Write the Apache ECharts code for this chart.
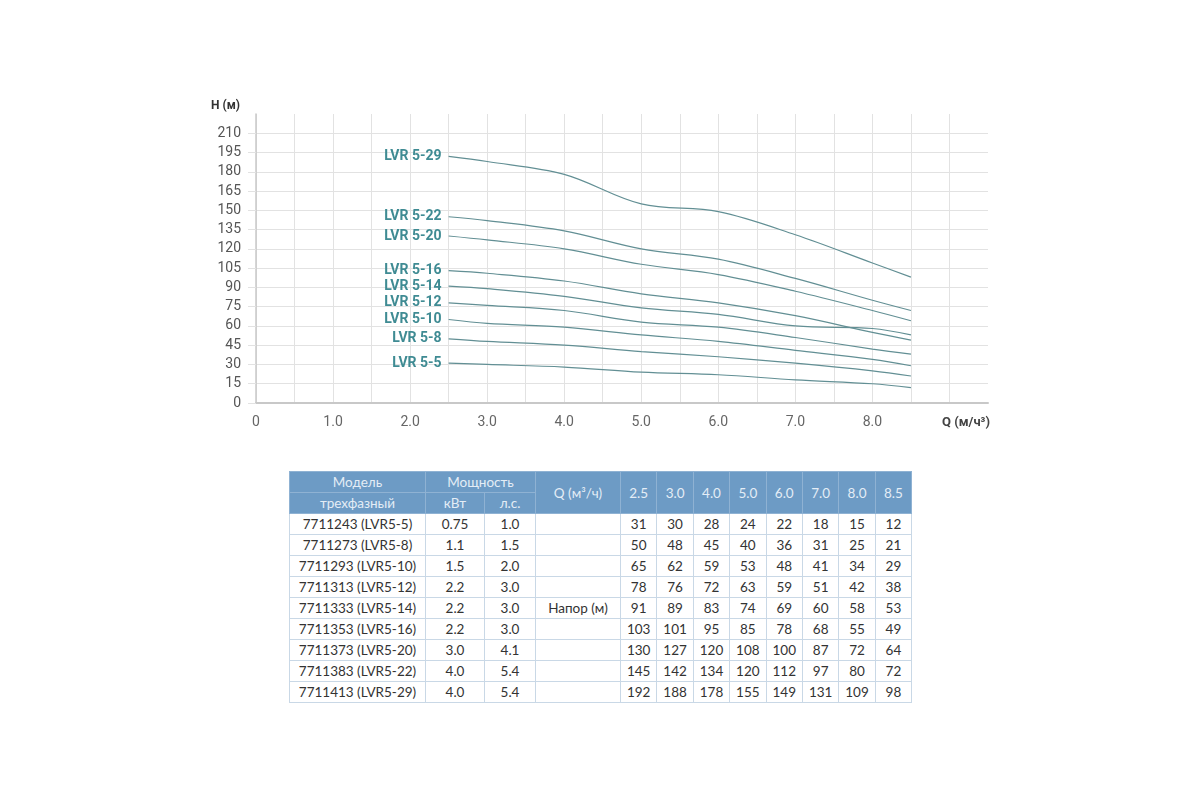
<!DOCTYPE html>
<html lang="ru">
<head>
<meta charset="utf-8">
<script src="https://cdn.jsdelivr.net/npm/echarts@6/dist/echarts.min.js"></script>
<style>
    html, body { margin: 0; padding: 0; background: #fff; }
    #chart { position: absolute; left: 0; top: 0; width: 1200px; height: 460px; }
    #tbl {
        position: absolute; left: 289px; top: 471px; width: 622px;
        border-collapse: collapse; table-layout: fixed;
        font-family: Lato, "Open Sans", sans-serif; font-size: 13.5px; color: #333;
    }
    #tbl td, #tbl th {
        height: 20px; padding: 0; text-align: center;
        border: 1px solid #c9d8e6; white-space: nowrap;
    }
    #tbl th {
        background: #6d9bc5; color: #e4edf6; font-weight: normal;
        border-color: #8fb2d3;
    }
</style>
</head>
<body>
<div id="chart"></div>
<table id="tbl"></table>
<script>
    // расход, м3/ч
    var flow = [2.5, 3.0, 4.0, 5.0, 6.0, 7.0, 8.0, 8.5];
    var flowLabels = ['2.5', '3.0', '4.0', '5.0', '6.0', '7.0', '8.0', '8.5'];

    var models = ['LVR 5-5', 'LVR 5-8', 'LVR 5-10', 'LVR 5-12', 'LVR 5-14', 'LVR 5-16', 'LVR 5-20', 'LVR 5-22', 'LVR 5-29'];
    var codes = ['7711243 (LVR5-5)', '7711273 (LVR5-8)', '7711293 (LVR5-10)', '7711313 (LVR5-12)', '7711333 (LVR5-14)',
                 '7711353 (LVR5-16)', '7711373 (LVR5-20)', '7711383 (LVR5-22)', '7711413 (LVR5-29)'];
    var powerKw = ['0.75', '1.1', '1.5', '2.2', '2.2', '2.2', '3.0', '4.0', '4.0'];
    var powerHp = ['1.0', '1.5', '2.0', '3.0', '3.0', '3.0', '4.1', '5.4', '5.4'];

    // напор, м
    var head_5_5  = [31, 30, 28, 24, 22, 18, 15, 12];
    var head_5_8  = [50, 48, 45, 40, 36, 31, 25, 21];
    var head_5_10 = [65, 62, 59, 53, 48, 41, 34, 29];
    var head_5_12 = [78, 76, 72, 63, 59, 51, 42, 38];
    var head_5_14 = [91, 89, 83, 74, 69, 60, 58, 53];
    var head_5_16 = [103, 101, 95, 85, 78, 68, 55, 49];
    var head_5_20 = [130, 127, 120, 108, 100, 87, 72, 64];
    var head_5_22 = [145, 142, 134, 120, 112, 97, 80, 72];
    var head_5_29 = [192, 188, 178, 155, 149, 131, 109, 98];
    var heads = [head_5_5, head_5_8, head_5_10, head_5_12, head_5_14, head_5_16, head_5_20, head_5_22, head_5_29];

    var grid = '#e2e2e2';
    var xSplit = [], ySplit = [];
    for (var i = 0; i < 19; i++) xSplit.push(grid);
    xSplit.push('rgba(0,0,0,0)');
    for (var j = 0; j < 15; j++) ySplit.push(grid);
    ySplit.push('rgba(0,0,0,0)');

    var series = models.map(function (name, k) {
        return {
            name: name,
            type: 'line',
            smooth: 0.35,
            symbol: 'none',
            lineStyle: { color: '#628f94', width: 1.2 },
            label: { show: false },
            data: flow.map(function (q, n) {
                var item = { value: [q, heads[k][n]] };
                if (n === 0) {
                    item.symbol = 'circle';
                    item.symbolSize = 0.1;
                    item.label = {
                        show: true, position: 'left', distance: 7,
                        formatter: name,
                        color: '#3f8b93', fontWeight: 'bold', fontSize: 14,
                        fontFamily: 'Roboto'
                    };
                }
                return item;
            })
        };
    });

    var myChart = echarts.init(document.getElementById('chart'));
    myChart.setOption({
        animation: false,
        grid: { left: 256, right: 212, top: 114, bottom: 57 },
        xAxis: {
            type: 'value', min: 0, max: 9.5, interval: 0.5,
            name: 'Q (м/ч³)', nameLocation: 'end', nameGap: 2,
            nameTextStyle: {
                align: 'right', verticalAlign: 'top', padding: [13, 0, 0, 0],
                color: '#444', fontWeight: 'bold', fontSize: 13, fontFamily: 'Roboto'
            },
            axisLine: { lineStyle: { color: '#c8c8c8', width: 2 } },
            axisTick: { show: false },
            axisLabel: {
                color: '#666', fontSize: 14, margin: 12, fontFamily: 'Roboto',
                formatter: function (v) {
                    if (v % 1 !== 0 || v > 8) return '';
                    return v === 0 ? '0' : v.toFixed(1);
                }
            },
            splitLine: { show: true, lineStyle: { color: xSplit, width: 1 } }
        },
        yAxis: {
            type: 'value', min: 0, max: 225, interval: 15,
            name: 'H (м)', nameLocation: 'end', nameGap: 2,
            nameTextStyle: {
                align: 'right', padding: [0, 16, 0, 0],
                color: '#333', fontWeight: 'bold', fontSize: 12, fontFamily: 'Roboto'
            },
            axisLine: { show: true, lineStyle: { color: '#c8c8c8', width: 1.5 } },
            axisTick: { show: true, length: 8, lineStyle: { color: grid } },
            axisLabel: {
                color: '#555', fontSize: 14, margin: 15, fontFamily: 'Roboto',
                showMaxLabel: false
            },
            splitLine: { show: true, lineStyle: { color: ySplit, width: 1 } }
        },
        series: series
    });

    // таблица
    var html = '<colgroup><col style="width:136px"><col style="width:59px"><col style="width:51px"><col style="width:85px">';
    flowLabels.forEach(function () { html += '<col style="width:36.4px">'; });
    html += '</colgroup>';
    html += '<tr><th>Модель</th><th colspan="2">Мощность</th><th rowspan="2">Q (м³/ч)</th>';
    flowLabels.forEach(function (f) { html += '<th rowspan="2">' + f + '</th>'; });
    html += '</tr><tr><th>трехфазный</th><th>кВт</th><th>л.с.</th></tr>';
    codes.forEach(function (c, r) {
        html += '<tr><td>' + c + '</td><td>' + powerKw[r] + '</td><td>' + powerHp[r] + '</td><td>' +
            (r === 4 ? 'Напор (м)' : '') + '</td>';
        heads[r].forEach(function (h) { html += '<td>' + h + '</td>'; });
        html += '</tr>';
    });
    document.getElementById('tbl').innerHTML = html;
</script>
</body>
</html>
